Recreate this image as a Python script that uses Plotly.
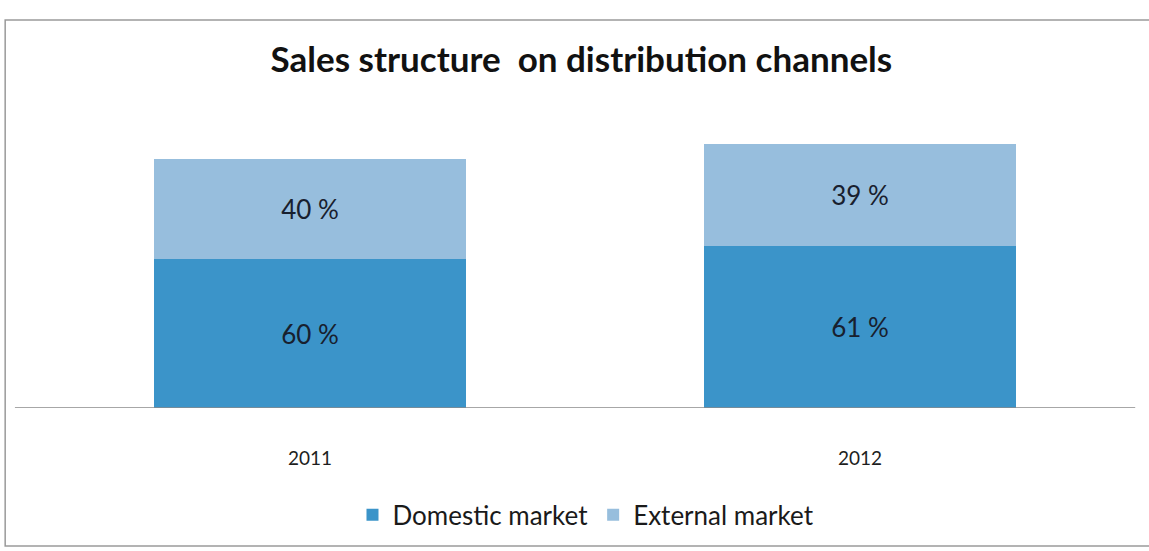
import plotly.graph_objects as go

# Sales by channel (relative units), shares are computed from these
years = ["2011", "2012"]
domestic = [149, 162]
external = [100, 102]

totals = [d + e for d, e in zip(domestic, external)]
dom_pct = [f"{round(100 * d / t)} %" for d, t in zip(domestic, totals)]
ext_pct = [f"{round(100 * e / t)} %" for e, t in zip(external, totals)]

xpos = list(range(len(years)))
font_family = "Lato, 'Open Sans', sans-serif"
bar_width = 0.569

fig = go.Figure()
fig.add_trace(go.Bar(
    x=xpos, y=domestic, name="Domestic market",
    marker=dict(color="#3b94c9", line=dict(width=0)),
    width=bar_width, text=dom_pct, textposition="inside",
    insidetextanchor="middle",
    textfont=dict(family=font_family, size=26, color="#18202e"),
))
fig.add_trace(go.Bar(
    x=xpos, y=external, name="External market",
    marker=dict(color="#97bedd", line=dict(width=0)),
    width=bar_width, text=ext_pct, textposition="inside",
    insidetextanchor="middle",
    textfont=dict(family=font_family, size=26, color="#18202e"),
))

fig.update_layout(
    width=1149, height=551,
    barmode="stack",
    paper_bgcolor="white", plot_bgcolor="white",
    margin=dict(l=0, r=0, t=100, b=143),
    title=dict(
        text="<b>Sales structure  on distribution channels</b>",
        x=0.506, xanchor="center", y=0.891, yanchor="middle",
        font=dict(family=font_family, size=35, color="#111111"),
    ),
    xaxis=dict(
        range=[-0.5636, 1.5255], tickvals=xpos, ticktext=years,
        showgrid=False, zeroline=False, showline=False, ticks="",
        ticklabelstandoff=37,
        tickfont=dict(family=font_family, size=19, color="#1e1e1e"),
    ),
    yaxis=dict(range=[0, 308], visible=False),
    legend=dict(
        orientation="h", x=0.51, xanchor="center", y=-0.347, yanchor="middle",
        font=dict(family=font_family, size=26, color="#1a1a1a"),
        traceorder="normal", itemwidth=30,
    ),
    showlegend=True,
    shapes=[
        # outer chart frame
        dict(type="rect", xref="paper", yref="paper",
             x0=0.0045, x1=1.01, y0=-0.448, y1=1.26,
             line=dict(color="#9a9a9a", width=1.5)),
        # category axis baseline
        dict(type="line", xref="paper", yref="y",
             x0=0.013, x1=0.988, y0=0, y1=0,
             line=dict(color="#8a8a8a", width=1.5)),
    ],
)

fig.write_html("out.html")
